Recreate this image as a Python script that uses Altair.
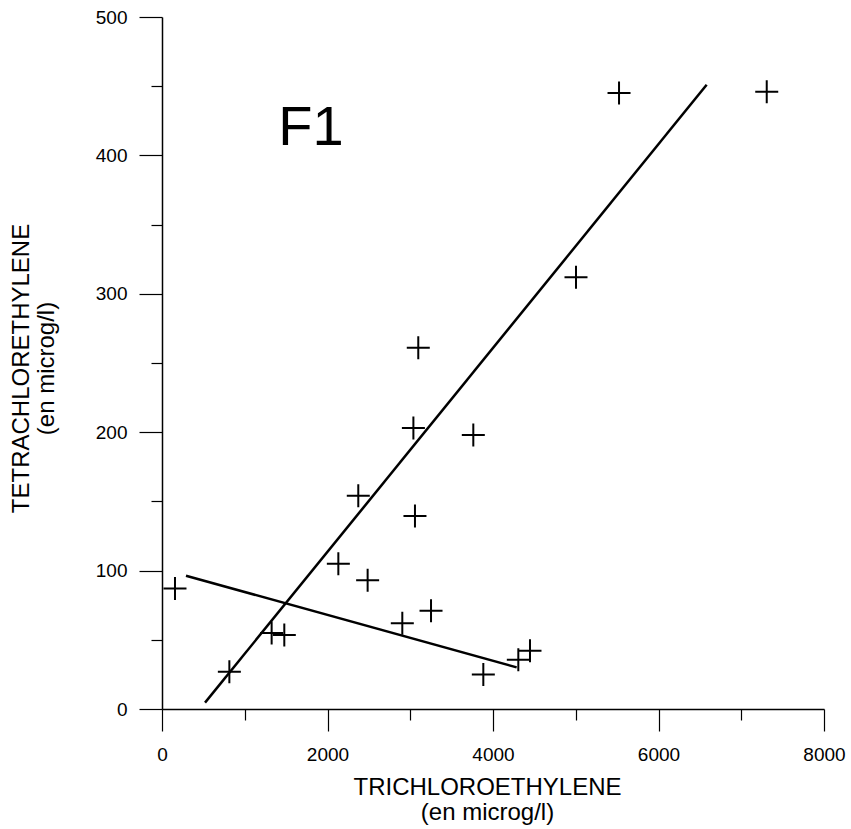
import altair as alt
import pandas as pd

# ---- data ----
tce = [157, 814, 1325, 1478, 2131, 2485, 2904, 3251, 3883, 4306, 4447,
       2372, 3057, 3038, 3762, 3097, 5003, 5523, 7308]
pce = [87, 27, 55, 53.5, 105, 93, 62, 71, 25, 35.5, 42,
       154, 139.5, 203, 198, 261, 312, 445, 446]

line_names = ["A", "A", "B", "B"]
line_x = [520, 6582, 290, 4286]
line_y = [4.6, 451, 96.3, 30.1]

x_major = [0, 2000, 4000, 6000, 8000]
x_minor = [1000, 3000, 5000, 7000]
y_major = [0, 100, 200, 300, 400, 500]
y_minor = [50, 150, 250, 350, 450]

label_text = ["F1"]
label_x = [1800]
label_y = [420]

FONT = "Liberation Sans"
CROSS = "M-1,0L1,0M0,-1L0,1"

pts_df = pd.DataFrame({"tce": tce, "pce": pce})
lines_df = pd.DataFrame({"line": line_names, "x": line_x, "y": line_y})
lab_df = pd.DataFrame({"t": label_text, "x": label_x, "y": label_y})

xs = alt.Scale(domain=[0, 8000], nice=False, zero=False)
ys = alt.Scale(domain=[0, 500], nice=False, zero=False)

common = dict(grid=False, domainColor="black", tickColor="black", labelColor="black",
              titleColor="black", labelFont=FONT, titleFont=FONT,
              labelFontSize=19, titleFontSize=24, titleFontWeight="normal",
              tickWidth=1.2, domainWidth=1.5, format="d")

x_major_axis = alt.Axis(values=x_major, tickSize=22, labelPadding=14, orient="bottom",
                        title=["TRICHLOROETHYLENE", "(en microg/l)"],
                        titleX=325, titleY=66, titleBaseline="top", titleLineHeight=25,
                        titleAlign="center", labelFlush=False, labelOverlap=False, **common)
y_major_axis = alt.Axis(values=y_major, tickSize=23, labelPadding=12, orient="left",
                        title=["TETRACHLORETHYLENE", "(en microg/l)"],
                        titleX=-129, titleY=351, titleBaseline="bottom", titleLineHeight=25,
                        titleAlign="center", titleAngle=270, labelFlush=False,
                        labelOverlap=False, **common)
x_minor_axis = alt.Axis(values=x_minor, tickSize=11, labels=False, domain=False,
                        orient="bottom", title=None, grid=False, tickColor="black", tickWidth=1.2)
y_minor_axis = alt.Axis(values=y_minor, tickSize=11, labels=False, domain=False,
                        orient="left", title=None, grid=False, tickColor="black", tickWidth=1.2)

points = alt.Chart(pts_df).mark_point(
    shape=CROSS, size=529, filled=False, strokeWidth=2, color="black", opacity=1
).encode(
    x=alt.X("tce:Q", scale=xs, axis=x_major_axis),
    y=alt.Y("pce:Q", scale=ys, axis=y_major_axis),
)

lines = alt.Chart(lines_df).mark_line(color="black", strokeWidth=2.5).encode(
    x=alt.X("x:Q", scale=xs, axis=x_minor_axis),
    y=alt.Y("y:Q", scale=ys, axis=y_minor_axis),
    detail="line:N",
)

label = alt.Chart(lab_df).mark_text(
    font=FONT, fontSize=56, color="black", baseline="middle", align="center"
).encode(
    x=alt.X("x:Q", scale=xs, axis=None),
    y=alt.Y("y:Q", scale=ys, axis=None),
    text="t:N",
)

chart = alt.layer(points, lines, label).resolve_axis(
    x="independent", y="independent"
).properties(
    width=662, height=692,
    autosize=alt.AutoSizeParams(type="none"),
    padding={"left": 162, "top": 17, "right": 27, "bottom": 120},
    background="white",
).configure_view(stroke=None)

chart.save("out.html", embed_options={"renderer": "svg", "actions": False})
